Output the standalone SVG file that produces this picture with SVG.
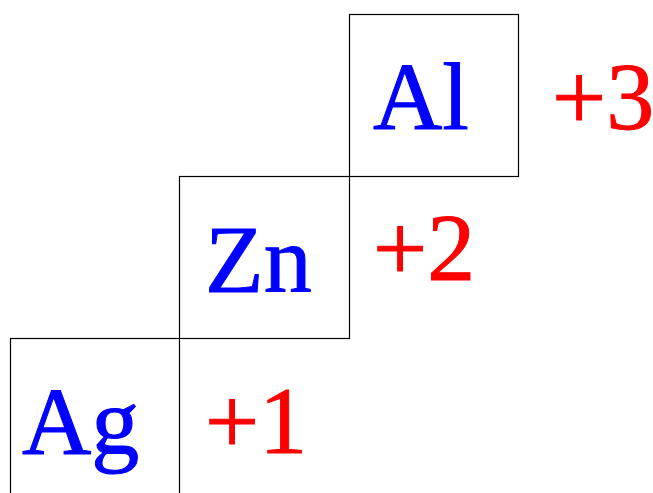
<svg xmlns="http://www.w3.org/2000/svg" width="653" height="493" viewBox="0 0 653 493">
<style>
.box{fill:none;stroke:#000;stroke-width:1.2}
.el{font-family:"Liberation Serif","Times New Roman",serif;font-size:96px;fill:#0000ff;stroke:#0000ff;stroke-width:1}
.ox{font-family:"Liberation Serif","Times New Roman",serif;font-size:96px;fill:#ff0000;stroke:#ff0000;stroke-width:1}
</style>
<rect width="653" height="493" fill="#fff"/>
<g id="node-al">
<rect class="box" x="349.5" y="14.5" width="169" height="162"/>
<text class="el" x="373" y="129">Al</text>
</g>
<g id="node-zn">
<rect class="box" x="179.5" y="176.5" width="170" height="162"/>
<text class="el" x="205" y="292">Zn</text>
</g>
<g id="node-ag">
<rect class="box" x="10.5" y="338.5" width="169" height="170"/>
<text class="el" x="22" y="454">Ag</text>
</g>
<g id="labels">
<text class="ox" x="552" y="129">+3</text>
<text class="ox" x="373" y="280">+2</text>
<text class="ox" x="205" y="453">+1</text>
</g>
<g id="connectors"/>
</svg>
